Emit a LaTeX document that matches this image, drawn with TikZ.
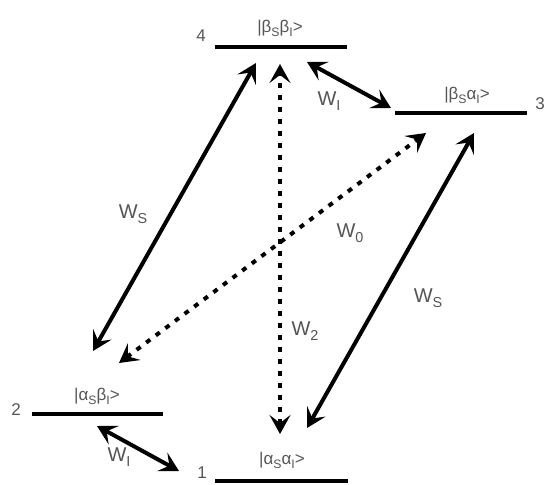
\documentclass[tikz,border=0pt]{standalone}
\usepackage{fontspec}
\usepackage{graphicx}
\setmainfont{Liberation Sans}
\usetikzlibrary{arrows.meta,positioning,calc}
\definecolor{KetGray}{RGB}{85,85,85}
\newcommand{\sbs}[1]{\raisebox{-0.45ex}{\scalebox{0.72}{#1}}}
\newcommand{\ket}[2]{|#1\sbs{S}#2\sbs{I}>}

\begin{document}
\begin{tikzpicture}[
  x=1pt,y=-1pt,
  level/.style={line width=4pt},
  ketlbl/.style={text=KetGray,font=\fontsize{17}{18}\selectfont,inner sep=1pt},
  numlbl/.style={text=KetGray,font=\fontsize{17}{18}\selectfont,inner sep=1pt},
  wlbl/.style={text=KetGray,font=\fontsize{20}{21}\selectfont,inner sep=1pt},
  trans/.style={{Stealth[length=19pt,width=21pt,inset=8pt]}-{Stealth[length=19pt,width=21pt,inset=8pt]},
                line width=4pt},
  dottrans/.style={trans,dash pattern=on 5pt off 7pt}
]
\useasboundingbox (0,0) rectangle (548,484);

% energy levels
\coordinate (l4a) at (215,47);  \coordinate (l4b) at (347,47);
\coordinate (l3a) at (395,113); \coordinate (l3b) at (527,113);
\coordinate (l2a) at (32,414);  \coordinate (l2b) at (163,414);
\coordinate (l1a) at (215,481); \coordinate (l1b) at (348,481);
\draw[level] (l4a) -- (l4b);
\draw[level] (l3a) -- (l3b);
\draw[level] (l2a) -- (l2b);
\draw[level] (l1a) -- (l1b);

\node[ketlbl] (k4) at (280,28) {\ket{β}{β}};
\node[ketlbl] (k3) at (467,95) {\ket{β}{α}};
\node[ketlbl] (k2) at (97,396) {\ket{α}{β}};
\node[ketlbl] (k1) at (282,460) {\ket{α}{α}};

\node[numlbl] (n4) at (201,36) {4};
\node[numlbl] (n3) at (540,104) {3};
\node[numlbl] (n2) at (16,410) {2};
\node[numlbl] (n1) at (202,473) {1};

% arrow ends
\coordinate (s1top) at (256,63);  \coordinate (s1bot) at (93,351);
\coordinate (s2top) at (474,133); \coordinate (s2bot) at (307,428);
\coordinate (dztop) at (280,64);  \coordinate (dzbot) at (280,434);
\coordinate (d0top) at (426,133); \coordinate (d0bot) at (119,363);
\coordinate (i1a) at (307,62);    \coordinate (i1b) at (391,108);
\coordinate (i2a) at (97,426);    \coordinate (i2b) at (179,471);

\draw[trans] (s1bot) -- (s1top);
\draw[trans] (s2bot) -- (s2top);
\draw[trans] (i1a) -- (i1b);
\draw[trans] (i2a) -- (i2b);
\draw[dottrans] (dzbot) -- (dztop);
\draw[dottrans] (d0bot) -- (d0top);

\node[wlbl] (ws1) at (133,214) {W\sbs{S}};
\node[wlbl] (ws2) at (428,298) {W\sbs{S}};
\node[wlbl] (wi1) at (329,101) {W\sbs{I}};
\node[wlbl] (wi2) at (119,457) {W\sbs{I}};
\node[wlbl] (w0) at (350,233) {W\sbs{0}};
\node[wlbl] (w2) at (305,331) {W\sbs{2}};
\end{tikzpicture}
\end{document}
